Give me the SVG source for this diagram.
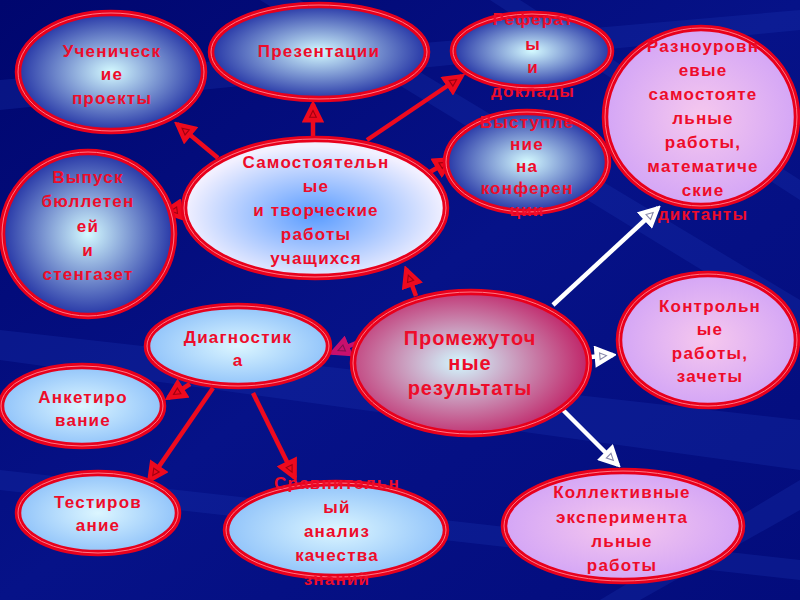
<svg xmlns="http://www.w3.org/2000/svg" width="800" height="600" viewBox="0 0 800 600">
<style>
.t{font-family:"Liberation Sans",Arial,sans-serif;font-weight:bold;font-size:17px;fill:#ee0c2a;text-anchor:middle;letter-spacing:1.2px}
.big{font-size:20px;letter-spacing:1px}
.ring{stroke:#e8001c;stroke-width:6.5}
.inner{fill:none;stroke:#ff7888;stroke-width:1}
.ar{fill:none;stroke:#ee0a1e;stroke-width:4.5;marker-end:url(#mr)}
.aw{fill:none;stroke:#ffffff;stroke-width:4.5;marker-end:url(#mw)}
.am{fill:none;stroke:#c8106e;stroke-width:4.5;marker-end:url(#mm)}
</style>
<defs>
<linearGradient id="bg" x1="0" y1="0" x2="1" y2="1">
<stop offset="0" stop-color="#00066e"/>
<stop offset="0.5" stop-color="#061288"/>
<stop offset="1" stop-color="#030c7c"/>
</linearGradient>
<radialGradient id="gBlue" cx="0.5" cy="0.5" r="0.5">
<stop offset="0" stop-color="#d4faff"/>
<stop offset="1" stop-color="#2636a6"/>
</radialGradient>
<radialGradient id="gSam" cx="0.5" cy="0.55" r="0.5">
<stop offset="0" stop-color="#5a9cff"/>
<stop offset="1" stop-color="#f2f0ff"/>
</radialGradient>
<radialGradient id="gLight" cx="0.5" cy="0.5" r="0.5">
<stop offset="0" stop-color="#dcf6ff"/>
<stop offset="1" stop-color="#92c4fa"/>
</radialGradient>
<radialGradient id="gViolet" cx="0.5" cy="0.5" r="0.5">
<stop offset="0" stop-color="#f6c8ee"/>
<stop offset="1" stop-color="#d4a6f6"/>
</radialGradient>
<radialGradient id="gPink" cx="0.45" cy="0.5" r="0.55">
<stop offset="0" stop-color="#d2f8ff"/>
<stop offset="1" stop-color="#c02468"/>
</radialGradient>
<marker id="mr" viewBox="0 0 20 20" refX="17" refY="10" markerWidth="22" markerHeight="22" markerUnits="userSpaceOnUse" orient="auto">
<path d="M1,1 L19,10 L1,19 Z" fill="#ee0a1e" stroke="#ee0a1e" stroke-width="1.5"/>
<path d="M5,7 L11,10 L5,13 Z" fill="none" stroke="#a00010" stroke-width="1"/>
</marker>
<marker id="mw" viewBox="0 0 20 20" refX="17" refY="10" markerWidth="22" markerHeight="22" markerUnits="userSpaceOnUse" orient="auto">
<path d="M1,1 L19,10 L1,19 Z" fill="#ffffff" stroke="#ffffff" stroke-width="1.5"/>
<path d="M5,7 L11,10 L5,13 Z" fill="none" stroke="#8888aa" stroke-width="1"/>
</marker>
<marker id="mm" viewBox="0 0 20 20" refX="17" refY="10" markerWidth="22" markerHeight="22" markerUnits="userSpaceOnUse" orient="auto">
<path d="M1,1 L19,10 L1,19 Z" fill="#c8106e" stroke="#c8106e" stroke-width="1.5"/>
<path d="M5,7 L11,10 L5,13 Z" fill="none" stroke="#801050" stroke-width="1"/>
</marker>
</defs>

<rect width="800" height="600" fill="url(#bg)"/>
<g id="streaks" fill="#1a34b0" opacity="0.3">
<polygon points="0,330 800,420 800,470 0,360"/>
<polygon points="0,470 800,560 800,580 0,490"/>
<polygon points="300,0 800,300 800,330 260,0"/>
<polygon points="520,0 800,180 800,200 490,0"/>
<polygon points="0,80 800,10 800,30 0,110"/>
<polygon points="600,600 800,480 800,510 640,600"/>
</g>

<g id="connectors">
<line class="ar" x1="218" y1="158" x2="177" y2="124"/>
<line class="ar" x1="313" y1="138" x2="313" y2="104"/>
<line class="ar" x1="367" y1="140" x2="462" y2="76"/>
<line class="ar" x1="430" y1="172" x2="452" y2="159"/>
<line class="ar" x1="186" y1="209" x2="164" y2="212"/>
<line class="ar" x1="416" y1="296" x2="406" y2="269"/>
<line class="am" x1="366" y1="339" x2="332" y2="353"/>
<line class="ar" x1="190" y1="384" x2="168" y2="398"/>
<line class="ar" x1="213" y1="388" x2="149" y2="481"/>
<line class="ar" x1="253" y1="393" x2="295" y2="478"/>
<line class="aw" x1="553" y1="305" x2="658" y2="208"/>
<line class="aw" x1="591" y1="357" x2="613" y2="355"/>
<line class="aw" x1="560" y1="407" x2="618" y2="465"/>
</g>

<g id="n-uchenicheskie">
<ellipse class="ring" cx="111" cy="72" rx="93" ry="59" fill="url(#gBlue)"/>
<ellipse class="inner" cx="111" cy="72" rx="93" ry="59"/>
<text class="t" x="112" y="57">Ученическ</text>
<text class="t" x="112" y="80">ие</text>
<text class="t" x="112" y="104">проекты</text>
</g>

<g id="n-prezentacii">
<ellipse class="ring" cx="319" cy="52" rx="108" ry="47" fill="url(#gBlue)"/>
<ellipse class="inner" cx="319" cy="52" rx="108" ry="47"/>
<text class="t" x="319" y="57">Презентации</text>
</g>

<g id="n-referaty">
<ellipse class="ring" cx="532" cy="51" rx="79" ry="37" fill="url(#gBlue)"/>
<ellipse class="inner" cx="532" cy="51" rx="79" ry="37"/>
<text class="t" x="533" y="25">Реферат</text>
<text class="t" x="533" y="50">ы</text>
<text class="t" x="533" y="73">и</text>
<text class="t" x="533" y="97">доклады</text>
</g>

<g id="n-vystuplenie">
<ellipse class="ring" cx="527" cy="162" rx="81" ry="50" fill="url(#gBlue)"/>
<ellipse class="inner" cx="527" cy="162" rx="81" ry="50"/>
<text class="t" x="527" y="128">Выступле</text>
<text class="t" x="527" y="150">ние</text>
<text class="t" x="527" y="172">на</text>
<text class="t" x="527" y="194">конферен</text>
<text class="t" x="527" y="216">ции</text>
</g>

<g id="n-raznourovnevye">
<ellipse class="ring" cx="701" cy="117" rx="96" ry="89" fill="url(#gViolet)"/>
<ellipse class="inner" cx="701" cy="117" rx="96" ry="89"/>
<text class="t" x="703" y="52">Разноуровн</text>
<text class="t" x="703" y="76">евые</text>
<text class="t" x="703" y="100">самостояте</text>
<text class="t" x="703" y="124">льные</text>
<text class="t" x="703" y="148">работы,</text>
<text class="t" x="703" y="172">математиче</text>
<text class="t" x="703" y="196">ские</text>
<text class="t" x="703" y="220">диктанты</text>
</g>

<g id="n-vypusk">
<ellipse class="ring" cx="88" cy="234" rx="86" ry="82" fill="url(#gBlue)"/>
<ellipse class="inner" cx="88" cy="234" rx="86" ry="82"/>
<text class="t" x="88" y="183">Выпуск</text>
<text class="t" x="88" y="207">бюллетен</text>
<text class="t" x="88" y="232">ей</text>
<text class="t" x="88" y="256">и</text>
<text class="t" x="88" y="280">стенгазет</text>
</g>

<g id="n-samostoyatelnye">
<ellipse class="ring" cx="315" cy="208" rx="131" ry="69" fill="url(#gSam)"/>
<ellipse class="inner" cx="315" cy="208" rx="131" ry="69"/>
<text class="t" x="316" y="168">Самостоятельн</text>
<text class="t" x="316" y="192">ые</text>
<text class="t" x="316" y="216">и творческие</text>
<text class="t" x="316" y="240">работы</text>
<text class="t" x="316" y="264">учащихся</text>
</g>

<g id="n-promezhutochnye">
<ellipse class="ring" cx="471" cy="363" rx="118" ry="71" fill="url(#gPink)"/>
<ellipse class="inner" cx="471" cy="363" rx="118" ry="71"/>
<text class="t big" x="470" y="345">Промежуточ</text>
<text class="t big" x="470" y="370">ные</text>
<text class="t big" x="470" y="395">результаты</text>
</g>

<g id="n-kontrolnye">
<ellipse class="ring" cx="708" cy="340" rx="89" ry="66" fill="url(#gViolet)"/>
<ellipse class="inner" cx="708" cy="340" rx="89" ry="66"/>
<text class="t" x="710" y="312">Контрольн</text>
<text class="t" x="710" y="335">ые</text>
<text class="t" x="710" y="359">работы,</text>
<text class="t" x="710" y="382">зачеты</text>
</g>

<g id="n-kollektivnye">
<ellipse class="ring" cx="623" cy="526" rx="119" ry="55" fill="url(#gViolet)"/>
<ellipse class="inner" cx="623" cy="526" rx="119" ry="55"/>
<text class="t" x="622" y="498">Коллективные</text>
<text class="t" x="622" y="523">эксперимента</text>
<text class="t" x="622" y="547">льные</text>
<text class="t" x="622" y="571">работы</text>
</g>

<g id="n-diagnostika">
<ellipse class="ring" cx="238" cy="346" rx="91" ry="40" fill="url(#gLight)"/>
<ellipse class="inner" cx="238" cy="346" rx="91" ry="40"/>
<text class="t" x="238" y="343">Диагностик</text>
<text class="t" x="238" y="366">а</text>
</g>

<g id="n-anketirovanie">
<ellipse class="ring" cx="82" cy="406" rx="81" ry="40" fill="url(#gLight)"/>
<ellipse class="inner" cx="82" cy="406" rx="81" ry="40"/>
<text class="t" x="83" y="403">Анкетиро</text>
<text class="t" x="83" y="426">вание</text>
</g>

<g id="n-testirovanie">
<ellipse class="ring" cx="98" cy="513" rx="80" ry="40" fill="url(#gLight)"/>
<ellipse class="inner" cx="98" cy="513" rx="80" ry="40"/>
<text class="t" x="98" y="508">Тестиров</text>
<text class="t" x="98" y="531">ание</text>
</g>

<g id="n-sravnitelnyi">
<ellipse class="ring" cx="336" cy="530" rx="110" ry="47" fill="url(#gLight)"/>
<ellipse class="inner" cx="336" cy="530" rx="110" ry="47"/>
<text class="t" x="337" y="489">Сравнительн</text>
<text class="t" x="337" y="513">ый</text>
<text class="t" x="337" y="537">анализ</text>
<text class="t" x="337" y="561">качества</text>
<text class="t" x="337" y="585">знаний</text>
</g>
</svg>
